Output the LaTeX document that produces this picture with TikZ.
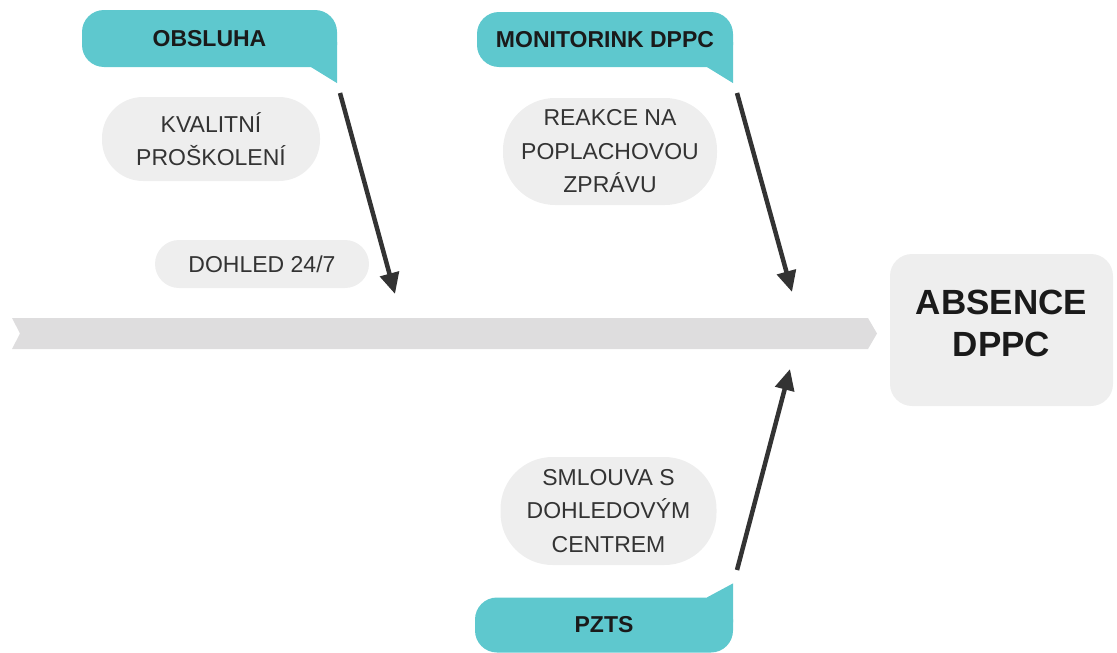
\documentclass[tikz,border=0pt]{standalone}
\usepackage{fontspec}
\setmainfont{Liberation Sans}
\usetikzlibrary{arrows.meta,calc,backgrounds}
\definecolor{headfill}{HTML}{5EC8CE}
\definecolor{pillfill}{HTML}{EEEEEE}
\definecolor{spinefill}{HTML}{DEDDDE}
\definecolor{arrowcol}{HTML}{333333}
\definecolor{pilltext}{HTML}{333333}
\definecolor{headtext}{HTML}{1A1A1A}
\tikzset{
  head/.style={fill=headfill, rounded corners=22pt, inner sep=0pt,
    text=headtext, font=\fontsize{23}{28}\selectfont\bfseries},
  pill/.style={fill=pillfill, inner sep=0pt, align=center, text=pilltext,
    font=\fontsize{23}{33.5}\selectfont},
  effect/.style={fill=pillfill, rounded corners=22pt, inner sep=0pt, align=center,
    text=headtext, font=\fontsize{35}{42}\selectfont\bfseries},
  cause/.style={draw=arrowcol, line width=4.5pt,
    -{Triangle[length=21pt,width=19pt]}},
}
\begin{document}
\begin{tikzpicture}[x=1pt,y=-1pt]
\useasboundingbox (0,0) rectangle (1117,653);

% main spine
\fill[spinefill] (12,318) -- (868,318) -- (877,333.5) -- (868,349) -- (12,349) -- (20,333.5) -- cycle;

% effect (the strut lifts the two lines a little above the box centre)
\node[effect, minimum width=223pt, minimum height=152pt] (effect) at (1001.5,330) {ABSENCE\\DPPC\rule[-14pt]{0pt}{0pt}};

% category headers; their speech-bubble tails sit behind the text
\node[head, minimum width=255pt, minimum height=57pt] (obsluha) at (209.5,38.5) {OBSLUHA};
\node[head, minimum width=256pt, minimum height=55pt] (monitor) at (605,39.5) {MONITORINK DPPC};
\node[head, minimum width=258pt, minimum height=55pt] (pzts) at (604,625) {PZTS};
\begin{scope}[on background layer]
\fill[headfill] ($(obsluha.south east)+(-26,0)$) -- ($(obsluha.south east)+(0,16)$)
  -- ($(obsluha.south east)+(0,-25)$) -- ($(obsluha.south east)+(-26,-25)$) -- cycle;
\fill[headfill] ($(monitor.south east)+(-26,0)$) -- ($(monitor.south east)+(0,16)$)
  -- ($(monitor.south east)+(0,-25)$) -- ($(monitor.south east)+(-26,-25)$) -- cycle;
\fill[headfill] ($(pzts.north east)+(-26,0)$) -- ($(pzts.north east)+(0,-14)$)
  -- ($(pzts.north east)+(0,25)$) -- ($(pzts.north east)+(-26,25)$) -- cycle;
\end{scope}

% causes
\node[pill, rounded corners=41pt, minimum width=218pt, minimum height=84pt] (kval) at (211,139) {KVALITNÍ\\PROŠKOLENÍ};
\node[pill, rounded corners=24pt, minimum width=214pt, minimum height=48pt] (dohled) at (262,264) {DOHLED 24/7};
\node[pill, rounded corners=52pt, minimum width=214pt, minimum height=107pt] (reakce) at (610,151.5) {REAKCE NA\\POPLACHOVOU\\ZPRÁVU};
\node[pill, rounded corners=52pt, minimum width=216pt, minimum height=108pt] (smlouva) at (608.5,511) {SMLOUVA S\\DOHLEDOVÝM\\CENTREM};

% arrows into the spine
\coordinate (s1) at (340,93);   \coordinate (e1) at (395,294);
\coordinate (s2) at (737,93);   \coordinate (e2) at (792,292);
\coordinate (s3) at (737,570);  \coordinate (e3) at (790,369);
\draw[cause] (s1) -- (e1);
\draw[cause] (s2) -- (e2);
\draw[cause] (s3) -- (e3);
\end{tikzpicture}
\end{document}
